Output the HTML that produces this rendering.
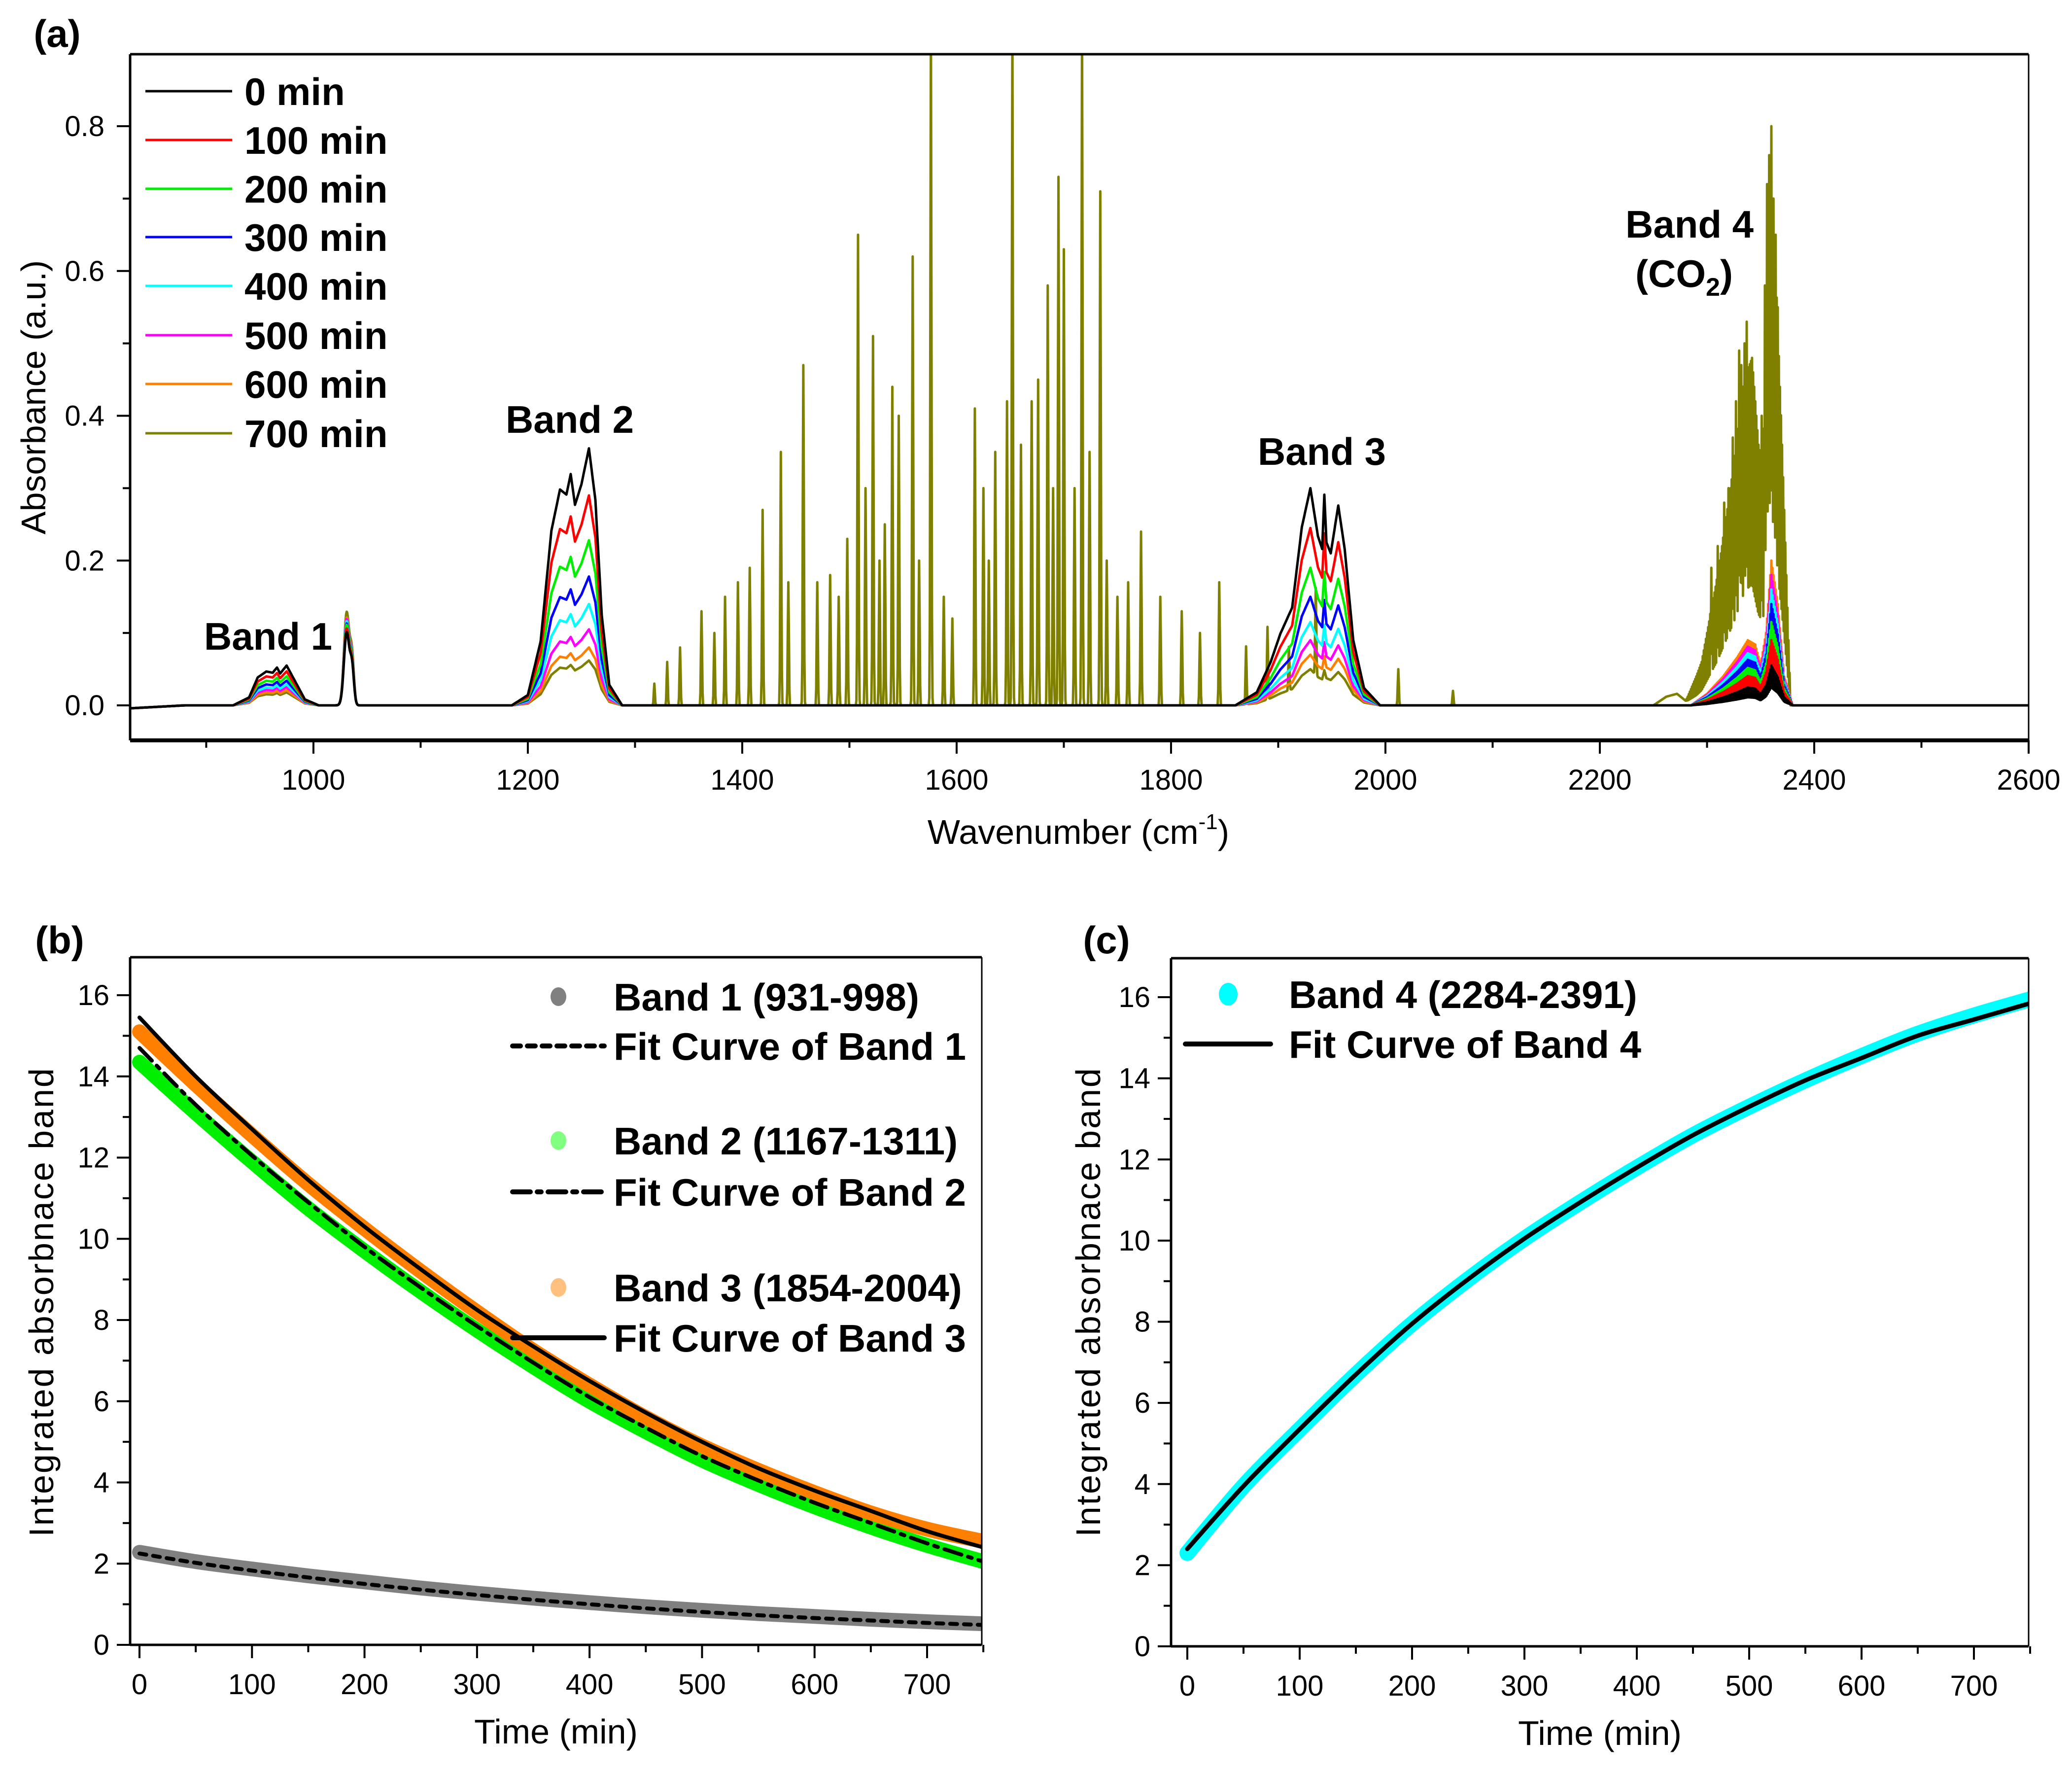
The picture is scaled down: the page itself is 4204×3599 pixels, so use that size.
<!DOCTYPE html>
<html><head><meta charset="utf-8">
<style>
html,body{margin:0;padding:0;background:#fff;}
svg{display:block;}
text{font-family:"Liberation Sans",Arial,sans-serif;}
.tk{font-size:58px;fill:#000;}
.lg{font-size:78px;font-weight:bold;fill:#000;}
.ttl{font-size:70px;fill:#000;}
</style></head>
<body>
<svg id="fig" width="4204" height="3599" viewBox="0 0 4204 3599" xmlns="http://www.w3.org/2000/svg">
<defs>
<clipPath id="clipA"><rect x="264" y="110" width="3852" height="1392"/></clipPath>
<clipPath id="clipB"><rect x="264" y="1942" width="1728" height="1395"/></clipPath>
<clipPath id="clipC"><rect x="2376" y="1944" width="1740" height="1396"/></clipPath>
</defs>
<g id="panelA"></g>
<g id="panelB"></g>
<g id="panelC"></g>
</svg>
<script>
// ---------- Panel (a) data ----------
const times = ["0 min","100 min","200 min","300 min","400 min","500 min","600 min","700 min"];
const seriesColors = ["#000000","#ff0000","#00ee00","#0000ff","#00ffff","#ff00ff","#ff8000","#808000"];
const band1Amp = [0.055,0.047,0.040,0.034,0.029,0.025,0.021,0.018];
const band2Amp = [0.355,0.29,0.228,0.178,0.14,0.105,0.08,0.062];
const band3Amp = [0.30,0.245,0.19,0.15,0.115,0.09,0.07,0.05];
const peak1030Amp = [0.10,0.105,0.11,0.112,0.115,0.118,0.12,0.128];
const co2Amp = [0.055,0.09,0.115,0.14,0.16,0.18,0.2,0.6];
const band1Shape = [[925,0],[940,0.2],[948,0.7],[956,0.85],[962,0.82],[966,0.95],[969,0.8],[975,1.0],[982,0.65],[992,0.15],[1005,0]];
const band2Shape = [[1185,0],[1200,0.04],[1212,0.25],[1222,0.68],[1230,0.84],[1236,0.82],[1240,0.9],[1244,0.78],[1250,0.86],[1257,1.0],[1263,0.8],[1269,0.35],[1276,0.08],[1288,0]];
const band3Shape = [[1860,0],[1880,0.06],[1893,0.2],[1902,0.33],[1913,0.45],[1922,0.82],[1930,1.0],[1937,0.78],[1941,0.72],[1943,0.97],[1945,0.75],[1949,0.7],[1956,0.92],[1962,0.72],[1970,0.3],[1980,0.08],[1995,0]];
const co2Shape = [[2285,0],[2300,0.08],[2315,0.2],[2328,0.33],[2338,0.45],[2345,0.42],[2350,0.28],[2355,0.5],[2360,1.0],[2366,0.7],[2372,0.2],[2380,0]];
const co2Shape700 = [[2280,0],[2295,0.1],[2310,0.3],[2325,0.55],[2335,0.75],[2342,0.8],[2348,0.6],[2352,0.55],[2358,1.0],[2364,1.0],[2370,0.6],[2378,0]];
const co2BumpShape = [[2250,0],[2262,0.012],[2272,0.016],[2282,0.004],[2290,0]];
const waterLines = [[1318,0.03],[1330,0.06],[1342,0.08],[1362,0.13],[1374,0.1],[1384,0.15],[1396,0.17],[1407,0.19],[1419,0.27],[1436,0.35],[1443,0.17],[1457,0.47],[1470,0.17],[1482,0.18],[1490,0.15],[1498,0.23],[1508,0.65],[1515,0.3],[1522,0.51],[1528,0.2],[1533,0.25],[1540,0.44],[1546,0.4],[1559,0.62],[1565,0.2],[1576,0.95],[1588,0.15],[1596,0.12],[1617,0.41],[1625,0.3],[1630,0.2],[1636,0.35],[1647,0.42],[1652,0.95],[1660,0.36],[1670,0.42],[1676,0.45],[1685,0.58],[1690,0.3],[1695,0.73],[1700,0.63],[1710,0.3],[1717,0.95],[1724,0.35],[1734,0.71],[1740,0.2],[1750,0.15],[1760,0.17],[1772,0.24],[1790,0.15],[1810,0.13],[1827,0.1],[1845,0.17],[1870,0.08],[1890,0.1],[1910,0.06],[1935,0.12],[2012,0.05],[2063,0.02]];
const co2Lines = [[2304,0.19],[2310,0.22],[2316,0.28],[2320,0.3],[2324,0.37],[2327,0.42],[2330,0.49],[2332,0.47],[2335,0.5],[2337,0.53],[2339,0.45],[2342,0.44],[2346,0.3],[2351,0.4],[2354,0.58],[2356,0.72],[2358,0.76],[2360,0.8],[2362,0.7],[2364,0.65],[2366,0.55],[2368,0.42],[2370,0.3]];
const xTicksA = [1000,1200,1400,1600,1800,2000,2200,2400,2600];
const yTicksA = [0.0,0.2,0.4,0.6,0.8];

// ---------- Panel (b) data ----------
const timeGrid = [0,50,100,150,200,250,300,350,400,450,500,550,600,650,700,750];
const band1Vals = [2.28,2.05,1.87,1.7,1.55,1.4,1.27,1.15,1.04,0.94,0.85,0.77,0.7,0.63,0.57,0.52];
const band2Vals = [14.35,13.1,11.9,10.75,9.7,8.7,7.75,6.85,6.0,5.25,4.55,3.95,3.4,2.9,2.45,2.05];
const band3Vals = [15.1,13.8,12.55,11.35,10.25,9.2,8.2,7.25,6.4,5.6,4.9,4.3,3.75,3.25,2.85,2.55];
const fit1Vals = [2.25,2.02,1.83,1.66,1.5,1.36,1.23,1.11,1.0,0.9,0.81,0.73,0.66,0.6,0.54,0.49];
const fit2Vals = [14.7,13.3,12.05,10.9,9.8,8.8,7.85,6.95,6.1,5.35,4.65,4.05,3.5,3.0,2.5,2.05];
const fit3Vals = [15.45,14.0,12.7,11.45,10.3,9.25,8.25,7.35,6.5,5.72,5.0,4.35,3.8,3.3,2.8,2.4];
// ---------- Panel (c) data ----------
const band4Vals = [2.3,3.95,5.35,6.7,7.95,9.05,10.05,10.95,11.8,12.6,13.3,13.95,14.55,15.1,15.55,15.95];
const fit4Vals = [2.4,3.95,5.35,6.7,7.95,9.05,10.05,10.95,11.8,12.6,13.3,13.95,14.5,15.05,15.45,15.85];
const xTicksBC = [0,100,200,300,400,500,600,700];
const yTicksBC = [0,2,4,6,8,10,12,14,16];

const NS = "http://www.w3.org/2000/svg";
function mk(tag, attrs, parent){const e=document.createElementNS(NS,tag);for(const k in attrs)e.setAttribute(k,attrs[k]);if(parent)parent.appendChild(e);return e;}
function txt(parent, x, y, s, cls, anchor, name){const t=mk("text",{x:x,y:y,class:cls,"text-anchor":anchor||"start"},parent);t.textContent=s;
return t;}
function interp(shape, x){if(x<=shape[0][0]||x>=shape[shape.length-1][0])return 0;for(let i=1;i<shape.length;i++){if(x<=shape[i][0]){const a=shape[i-1],b=shape[i];return a[1]+(b[1]-a[1])*(x-a[0])/(b[0]-a[0]);}}return 0;}

// ---------- Panel (a) ----------
(function(){
const g=document.getElementById("panelA");
const L=264,R=4116,T=110,B=1502;
const xA=v=>L+(v-829)*(R-L)/(2600-829);
const yA=v=>1431-(v)*(1431-256)/0.8;
const plot=mk("g",{"clip-path":"url(#clipA)"},g);
for(let s=times.length-1;s>=0;s--){
  let d="";
  let k=0;
  for(let x=829;x<=2600;x+=0.5,k++){
    let v=-0.004*Math.max(0,(880-x)/50);
    v+=band1Amp[s]*interp(band1Shape,x);
    v+=band2Amp[s]*interp(band2Shape,x);
    v+=band3Amp[s]*interp(band3Shape,x);
    v+=peak1030Amp[s]*Math.exp(-Math.pow((x-1031)/2.5,2)/2)+0.5*peak1030Amp[s]*Math.exp(-Math.pow((x-1036)/1.8,2)/2);
    if(s===7){
      const env=co2Amp[s]*interp(co2Shape700,x);
      v+=env*(k%2===0?1:0.35);
      v+=interp(co2BumpShape,x);
      for(const w of waterLines){const dx=x-w[0];if(Math.abs(dx)<3)v+=w[1]*Math.exp(-dx*dx/0.5);}
      for(const w of co2Lines){const dx=x-w[0];if(Math.abs(dx)<1.5)v+=Math.max(0,w[1]-env)*Math.exp(-dx*dx/0.3);}
    } else {
      v+=co2Amp[s]*interp(co2Shape,x)*(k%2===0?1:0.45);
    }
    d+=(d?"L":"M")+xA(x).toFixed(1)+" "+yA(v).toFixed(1);
  }
  const p=mk("path",{d:d,fill:"none",stroke:seriesColors[s],"stroke-width":5,"stroke-linejoin":"round"},plot);
  
  
}
// frame
const fr=mk("g",{},g);
mk("line",{x1:L,y1:T,x2:R,y2:T,stroke:"#000","stroke-width":5},fr);
mk("line",{x1:R,y1:T,x2:R,y2:B,stroke:"#000","stroke-width":3},fr);
mk("line",{x1:L,y1:T,x2:L,y2:B,stroke:"#000","stroke-width":5},fr);
mk("line",{x1:L,y1:B,x2:R,y2:B,stroke:"#000","stroke-width":8},fr);
for(let v=900;v<=2600;v+=100){const x=xA(v);const major=xTicksA.includes(v);mk("line",{x1:x,y1:B,x2:x,y2:B+(major?27:15),stroke:"#000","stroke-width":4},fr);}
xTicksA.forEach(v=>txt(g,xA(v),1602,String(v),"tk","middle","x-tick-label"));
for(let v=0;v<=0.85;v+=0.1){const y=yA(v);const major=Math.round(v*10)%2===0;mk("line",{x1:L,y1:y,x2:L-(major?27:15),y2:y,stroke:"#000","stroke-width":4},fr);}
yTicksA.forEach(v=>txt(g,212,yA(v)+20,v.toFixed(1),"tk","end","y-tick-label"));
const yt=txt(g,0,0,"Absorbance (a.u.)","ttl","middle","y-axis-title");yt.setAttribute("transform","translate(92,806) rotate(-90)");
const xt=txt(g,2188,1712,"Wavenumber (cm","ttl","middle","x-axis-title");
const ts=mk("tspan",{"font-size":"44","dy":"-30"},xt);ts.textContent="-1";
const ts2=mk("tspan",{"dy":"30"},xt);ts2.textContent=")";
txt(g,116,95,"(a)","lg","middle","panel-label-a");
// legend
const legY=[185,284,383,481,580,680,779,879];
times.forEach((t,i)=>{
  const gg=mk("g",{},g);
  
  mk("line",{x1:295,y1:legY[i],x2:471,y2:legY[i],stroke:seriesColors[i],"stroke-width":5},gg);
  txt(gg,496,legY[i]+28,t,"lg","start","legend-label");
});
txt(g,544,1318,"Band 1","lg","middle","band-1-label");
txt(g,1156,878,"Band 2","lg","middle","band-2-label");
txt(g,2682,943,"Band 3","lg","middle","band-3-label");
txt(g,3428,482,"Band 4","lg","middle","band-4-label");
const co=txt(g,3417,582,"(CO","lg","middle","band-4-co2-label");
const s2=mk("tspan",{"font-size":"52","dy":"18"},co);s2.textContent="2";
const s3=mk("tspan",{"dy":"-18"},co);s3.textContent=")";
})();

// ---------- Panels (b),(c) ----------
function catmull(pts){let d="M"+pts[0][0].toFixed(1)+" "+pts[0][1].toFixed(1);for(let i=0;i<pts.length-1;i++){const p0=pts[Math.max(0,i-1)],p1=pts[i],p2=pts[i+1],p3=pts[Math.min(pts.length-1,i+2)];const c1=[p1[0]+(p2[0]-p0[0])/6,p1[1]+(p2[1]-p0[1])/6],c2=[p2[0]-(p3[0]-p1[0])/6,p2[1]-(p3[1]-p1[1])/6];d+="C"+c1[0].toFixed(1)+" "+c1[1].toFixed(1)+" "+c2[0].toFixed(1)+" "+c2[1].toFixed(1)+" "+p2[0].toFixed(1)+" "+p2[1].toFixed(1);}return d;}
function kinPanel(g,L,R,T,B,x0,x700,y0,y16,clip,curves,ttlX){
  const xf=v=>x0+v*(x700-x0)/700, yf=v=>y0-v*(y0-y16)/16;
  const plot=mk("g",{"clip-path":"url("+clip+")"},g);
  curves.forEach(c=>{
    const p=mk("path",{d:catmull(timeGrid.map((t,i)=>[xf(t),yf(c.vals[i])])),fill:"none",stroke:c.color,"stroke-width":c.w,"stroke-linecap":"round"},plot);
    if(c.dash)p.setAttribute("stroke-dasharray",c.dash);
    
    
  });
  mk("line",{x1:L,y1:T,x2:R,y2:T,stroke:"#000","stroke-width":5},g);
  mk("line",{x1:R,y1:T,x2:R,y2:B,stroke:"#000","stroke-width":3},g);
  mk("line",{x1:L,y1:T,x2:L,y2:B,stroke:"#000","stroke-width":5},g);
  mk("line",{x1:L,y1:B,x2:R,y2:B,stroke:"#000","stroke-width":5},g);
  for(let v=0;v<=750;v+=50){const x=xf(v);mk("line",{x1:x,y1:B,x2:x,y2:B+(v%100===0?27:15),stroke:"#000","stroke-width":4},g);}
  xTicksBC.forEach(v=>txt(g,xf(v),B+100,String(v),"tk","middle","x-tick-label"));
  for(let v=0;v<=16;v+=1){const y=yf(v);mk("line",{x1:L,y1:y,x2:L-(v%2===0?27:15),y2:y,stroke:"#000","stroke-width":4},g);}
  yTicksBC.forEach(v=>txt(g,L-42,yf(v)+20,String(v),"tk","end","y-tick-label"));
  txt(g,(L+R)/2-ttlX,B+200,"Time (min)","ttl","middle","x-axis-title");
  return {xf,yf};
}
(function(){
const g=document.getElementById("panelB");
kinPanel(g,264,1992,1942,3337,283,1881,3337,2019,"#clipB",[
 {vals:band1Vals,color:"#808080",w:30,name:"band-1-points"},
 {vals:band2Vals,color:"#00ee00",w:30,name:"band-2-points"},
 {vals:band3Vals,color:"#ff8000",w:30,name:"band-3-points"},
 {vals:fit1Vals,color:"#000",w:8,dash:"14 14",name:"fit-curve-band-1"},
 {vals:fit2Vals,color:"#000",w:8,dash:"36 14 8 14",name:"fit-curve-band-2"},
 {vals:fit3Vals,color:"#000",w:8,name:"fit-curve-band-3"}],0);
const yt=txt(g,0,0,"Integrated absorbnace band","ttl","middle","y-axis-title");yt.setAttribute("transform","translate(108,2641) rotate(-90)");yt.setAttribute("letter-spacing","3");
txt(g,121,1934,"(b)","lg","middle","panel-label-b");
const items=[["#808080","Band 1 (931-998)",2022,null],[null,"Fit Curve of Band 1",2122,"16 14"],["#80ff80","Band 2 (1167-1311)",2314,null],[null,"Fit Curve of Band 2",2418,"36 14 8 14"],["#ffc080","Band 3 (1854-2004)",2612,null],[null,"Fit Curve of Band 3",2714,""]];
items.forEach(it=>{
  const gg=mk("g",{},g);
  
  if(it[0])mk("ellipse",{cx:1133,cy:it[2],rx:16,ry:19,fill:it[0]},gg);
  else{const l=mk("line",{x1:1040,y1:it[2],x2:1226,y2:it[2],stroke:"#000","stroke-width":10,"stroke-linecap":"round"},gg);if(it[3])l.setAttribute("stroke-dasharray",it[3]);}
  txt(gg,1245,it[2]+28,it[1],"lg","start","legend-label");
});
})();
(function(){
const g=document.getElementById("panelC");
kinPanel(g,2376,4116,1944,3340,2409,4005,3340,2023,"#clipC",[
 {vals:band4Vals,color:"#00ffff",w:32,name:"band-4-points"},
 {vals:fit4Vals,color:"#000",w:9,name:"fit-curve-band-4"}],0);
const yt=txt(g,0,0,"Integrated absorbnace band","ttl","middle","y-axis-title");yt.setAttribute("transform","translate(2232,2641) rotate(-90)");yt.setAttribute("letter-spacing","3");
txt(g,2245,1934,"(c)","lg","middle","panel-label-c");
const g1=mk("g",{},g);

mk("ellipse",{cx:2492,cy:2017,rx:19,ry:23,fill:"#00ffff"},g1);
txt(g1,2615,2045,"Band 4 (2284-2391)","lg","start","legend-label");
const g2=mk("g",{},g);

mk("line",{x1:2405,y1:2118,x2:2578,y2:2118,stroke:"#000","stroke-width":10,"stroke-linecap":"round"},g2);
txt(g2,2615,2146,"Fit Curve of Band 4","lg","start","legend-label");
})();
</script>
</body></html>
